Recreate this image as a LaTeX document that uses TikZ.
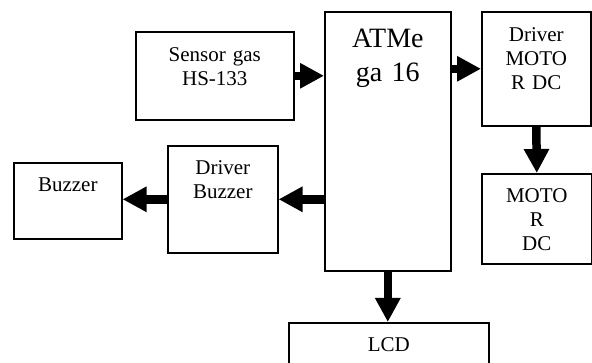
\documentclass[tikz,border=0pt]{standalone}
\usepackage{fontspec}
\setmainfont{Liberation Serif}
\usetikzlibrary{arrows.meta,calc}
\begin{document}
\begin{tikzpicture}[x=1pt,y=-1pt,
  box/.style={draw=black,line width=1.6pt,inner sep=0pt,anchor=north west},
  txt/.style={anchor=base,align=center,inner sep=0pt,font=\fontsize{21}{24}\selectfont},
  bigtxt/.style={anchor=base,align=center,inner sep=0pt,font=\fontsize{28}{34}\selectfont},
  arr/.style={line width=8.5pt,-{Triangle[length=24pt,width=24pt]}}]
\clip (0,0) rectangle (592,363);
\fill[white] (0,0) rectangle (592,363);
% boxes
\node[box,minimum width=158pt,minimum height=88pt] (sensor) at (135,31) {};
\node[box,minimum width=126pt,minimum height=259pt] (atmega) at (324,11) {};
\node[box,minimum width=109pt,minimum height=114pt] (drvmotor) at (481,11) {};
\node[box,minimum width=110pt,minimum height=90pt] (motor) at (481,173) {};
\node[box,minimum width=110pt,minimum height=107pt] (drvbuzzer) at (167,145) {};
\node[box,minimum width=108pt,minimum height=76pt] (buzzer) at (13,162) {};
\node[box,minimum width=200pt,minimum height=80pt] (lcd) at (288,322) {};
% texts
\node[txt,text width=150pt] (tsensor) at ($(sensor.north)+(0,31)$) {Sensor gas\\HS-133};
\node[bigtxt,text width=124pt] (tatmega) at ($(atmega.north)+(0,37)$) {ATMe\\ga 16};
\node[txt,text width=105pt] (tdrvmotor) at ($(drvmotor.north)+(0,31)$) {Driver\\MOTO\\R DC};
\node[txt,text width=105pt] (tmotor) at ($(motor.north)+(0,30)$) {MOTO\\R\\DC};
\node[txt,text width=105pt] (tdrvbuzzer) at ($(drvbuzzer.north)+(0,30)$) {Driver\\Buzzer};
\node[txt,text width=105pt] (tbuzzer) at ($(buzzer.north)+(0,30)$) {Buzzer};
\node[txt,text width=190pt] (tlcd) at ($(lcd.north)+(0,30)$) {LCD};
% arrows
\draw[arr] (sensor.east) -- (sensor.east -| atmega.west);
\draw[arr] (drvmotor.west -| atmega.east) -- (drvmotor.west);
\draw[arr] (drvmotor.south) -- (motor.north);
\draw[arr] (drvbuzzer.east -| atmega.west) -- (drvbuzzer.east);
\draw[arr] (drvbuzzer.west) -- (drvbuzzer.west -| buzzer.east);
\draw[arr] (atmega.south) -- (atmega.south |- lcd.north);
\end{tikzpicture}
\end{document}
